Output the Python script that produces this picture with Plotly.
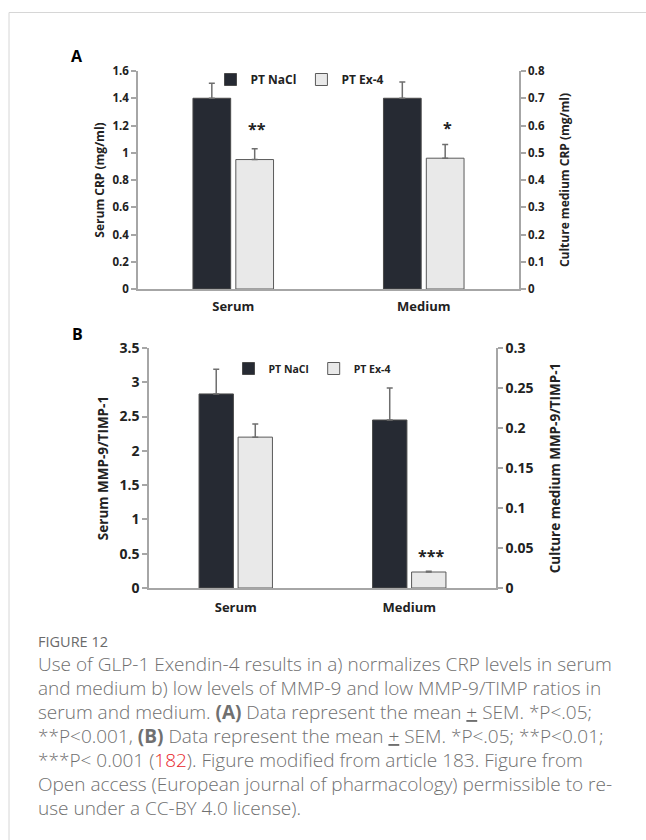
import plotly.graph_objects as go

W, H = 646, 840

# ---------------- data ----------------
groups = ["Serum", "Medium"]
series = ["PT NaCl", "PT Ex-4"]

# Panel A: CRP (Serum on left axis, mg/ml; Medium on right axis, mg/ml)
a_serum = [1.40, 0.95]
a_serum_err = [0.11, 0.08]
a_medium = [0.70, 0.48]
a_medium_err = [0.06, 0.05]
a_sig = ["", "**"]
a_sig_med = ["", "*"]
a_left_ticks = [0, 0.2, 0.4, 0.6, 0.8, 1, 1.2, 1.4, 1.6]
a_left_labels = ["0", "0.2", "0.4", "0.6", "0.8", "1", "1.2", "1.4", "1.6"]
a_right_ticks = [0, 0.1, 0.2, 0.3, 0.4, 0.5, 0.6, 0.7, 0.8]
a_right_labels = ["0", "0.1", "0.2", "0.3", "0.4", "0.5", "0.6", "0.7", "0.8"]

# Panel B: MMP-9/TIMP-1 (Serum left axis, Medium right axis)
b_serum = [2.83, 2.20]
b_serum_err = [0.36, 0.19]
b_medium = [0.210, 0.020]
b_medium_err = [0.040, 0.001]
b_sig = ["", ""]
b_sig_med = ["", "***"]
b_left_ticks = [0, 0.5, 1, 1.5, 2, 2.5, 3, 3.5]
b_left_labels = ["0", "0.5", "1", "1.5", "2", "2.5", "3", "3.5"]
b_right_ticks = [0, 0.05, 0.1, 0.15, 0.2, 0.25, 0.3]
b_right_labels = ["0", "0.05", "0.1", "0.15", "0.2", "0.25", "0.3"]

caption_head = "FIGURE 12"
caption_lines = [
    "Use of GLP-1 Exendin-4 results in a) normalizes CRP levels in serum",
    "and medium b) low levels of MMP-9 and low MMP-9/TIMP ratios in",
    "serum and medium. <b>(A)</b> Data represent the mean <u>+</u> SEM. *P<.05;",
    "**P<0.001, <b>(B)</b> Data represent the mean <u>+</u> SEM. *P<.05; **P<0.01;",
    "***P< 0.001 (<span style='color:#e8262a'>182</span>). Figure modified from article 183. Figure from",
    "Open access (European journal of pharmacology) permissible to re-",
    "use under a CC-BY 4.0 license).",
]

# ---------------- style ----------------
FILL = ["#262a33", "#e9e9e9"]
EDGE = ["#4a4a4a", "#5a5a5a"]
ERRC = "#6e6e6e"
AXC = "#a6a6a6"
TXT = "#222222"
FONT = "Open Sans"

def px_x(p):
    return p / W

def px_y(p):
    return 1 - p / H

fig = go.Figure()

def add_panel(xa, ya_l, ya_r, serum, serum_err, medium, medium_err, showleg, legname):
    for i, name in enumerate(series):
        fig.add_trace(go.Bar(
            x=[groups[0]], y=[serum[i]], name=name, xaxis=xa, yaxis=ya_l,
            marker=dict(color=FILL[i], line=dict(color=EDGE[i], width=1)),
            error_y=dict(type="data", symmetric=False, array=[serum_err[i]], arrayminus=[0],
                         color=ERRC, thickness=1.5, width=3),
            offsetgroup=str(i), showlegend=showleg, legend=legname, hoverinfo="skip"))
    for i, name in enumerate(series):
        fig.add_trace(go.Bar(
            x=[groups[1]], y=[medium[i]], name=name, xaxis=xa, yaxis=ya_r,
            marker=dict(color=FILL[i], line=dict(color=EDGE[i], width=1)),
            error_y=dict(type="data", symmetric=False, array=[medium_err[i]], arrayminus=[0],
                         color=ERRC, thickness=1.5, width=3),
            offsetgroup=str(i), showlegend=False, hoverinfo="skip"))

add_panel("x", "y", "y2", a_serum, a_serum_err, a_medium, a_medium_err, True, "legend")
add_panel("x2", "y3", "y4", b_serum, b_serum_err, b_medium, b_medium_err, True, "legend2")

# domains (pixel-based)
A_x = [px_x(138), px_x(519)]
A_y = [px_y(289), px_y(71)]
B_x = [px_x(149), px_x(496)]
B_y = [px_y(588), px_y(348)]

def yaxis(dom, rng, tv, tt, title, side, size, tsize, anchor, overlay=None, standoff=8):
    d = dict(domain=dom, range=rng, tickvals=tv, ticktext=tt, showgrid=False, zeroline=False,
             showline=True, linecolor=AXC, linewidth=1.5, ticks="outside", ticklen=5,
             tickcolor=AXC, tickwidth=1.5, side=side, anchor=anchor,
             tickfont=dict(family=FONT, size=size, color=TXT, weight="bold"),
             title=dict(text=title, font=dict(family=FONT, size=tsize, color=TXT, weight="bold"),
                        standoff=standoff))
    if overlay:
        d["overlaying"] = overlay
    return d

xcommon = dict(showgrid=False, zeroline=False, showline=True, linecolor=AXC, linewidth=1.5,
               ticks="", type="category", categoryorder="array", categoryarray=groups)

fig.update_layout(
    width=W, height=H, margin=dict(l=0, r=0, t=0, b=0, pad=0, autoexpand=False),
    paper_bgcolor="white", plot_bgcolor="white",
    barmode="group", bargap=0.55, bargroupgap=0.12,
    font=dict(family=FONT, color=TXT),
    xaxis=dict(domain=A_x, anchor="y", **xcommon, ticklabelstandoff=5,
               tickfont=dict(family=FONT, size=13, color=TXT, weight="bold")),
    xaxis2=dict(domain=B_x, anchor="y3", **xcommon, ticklabelstandoff=7,
                tickfont=dict(family=FONT, size=13, color=TXT, weight="bold")),
    yaxis=yaxis(A_y, [0, 1.6], a_left_ticks, a_left_labels, "Serum CRP (mg/ml)", "left", 11.5, 12, "x", standoff=5),
    yaxis2=yaxis(A_y, [0, 0.8], a_right_ticks, a_right_labels, "Culture medium CRP (mg/ml)", "right", 11.5, 12, "x", overlay="y", standoff=17),
    yaxis3=yaxis(B_y, [0, 3.5], b_left_ticks, b_left_labels, "Serum MMP-9/TIMP-1", "left", 14, 13.5, "x2", standoff=8),
    yaxis4=yaxis(B_y, [0, 0.3], b_right_ticks, b_right_labels, "Culture medium MMP-9/TIMP-1", "right", 14, 13.5, "x2", overlay="y3", standoff=18),
    legend=dict(orientation="h", x=px_x(300), y=px_y(65), xanchor="center", yanchor="top",
                font=dict(family=FONT, size=12, color=TXT, weight="bold"),
                bgcolor="rgba(0,0,0,0)", itemwidth=30, tracegroupgap=0),
    legend2=dict(orientation="h", x=px_x(312), y=px_y(354), xanchor="center", yanchor="top",
                 font=dict(family=FONT, size=10.5, color=TXT, weight="bold"),
                 bgcolor="rgba(0,0,0,0)", itemwidth=30, tracegroupgap=0),
)

# significance stars
def stars(xa, ya, grp, vals, errs, sig, pad, xshift):
    for i, s in enumerate(sig):
        if s:
            fig.add_annotation(x=grp, y=vals[i] + errs[i] + pad, xref=xa, yref=ya, text=s,
                               showarrow=False, xshift=xshift, yanchor="bottom",
                               font=dict(family=FONT, size=16, color=TXT, weight="bold"))

stars("x", "y", groups[0], a_serum, a_serum_err, a_sig, 0.05, 24)
stars("x", "y2", groups[1], a_medium, a_medium_err, a_sig_med, 0.012, 24)
stars("x2", "y4", groups[1], b_medium, b_medium_err, b_sig_med, 0.003, 22)

# panel letters
for txt, xp, yp in [("A", 77, 56), ("B", 77, 334)]:
    fig.add_annotation(x=px_x(xp), y=px_y(yp), xref="paper", yref="paper", text=txt,
                       xanchor="center", yanchor="middle",
                       showarrow=False, font=dict(family=FONT, size=16, color="#000", weight="bold"))

# card border
fig.add_shape(type="line", xref="paper", yref="paper", x0=px_x(9), x1=1.05, y0=px_y(12.5), y1=px_y(12.5),
              line=dict(color="#d6d6d6", width=1))
fig.add_shape(type="line", xref="paper", yref="paper", x0=px_x(9), x1=px_x(9), y0=px_y(12.5), y1=-0.05,
              line=dict(color="#d6d6d6", width=1))

# caption
fig.add_annotation(x=px_x(36), y=px_y(641), xref="paper", yref="paper", text=caption_head,
                   showarrow=False, xanchor="left", yanchor="middle",
                   font=dict(family=FONT, size=14.5, color="#6a6a6a", weight=500))
for k, line in enumerate(caption_lines):
    fig.add_annotation(x=px_x(36), y=px_y(664 + 24 * k), xref="paper", yref="paper", text=line,
                       showarrow=False, xanchor="left", yanchor="middle", align="left",
                       font=dict(family=FONT, size=19, color="#707070", weight=300))

post = ("var s=document.documentElement.style;s.margin='0';s.padding='0';s.overflow='hidden';s.height='840px';"
        "var b=document.body.style;b.margin='0';b.padding='0';b.overflow='hidden';b.height='840px';"
        "var g=document.getElementById('{plot_id}');g.style.display='block';"
        "g.parentElement.style.height='840px';g.parentElement.style.overflow='hidden';")

fig.write_html("out.html", config={"displayModeBar": False}, post_script=post)
